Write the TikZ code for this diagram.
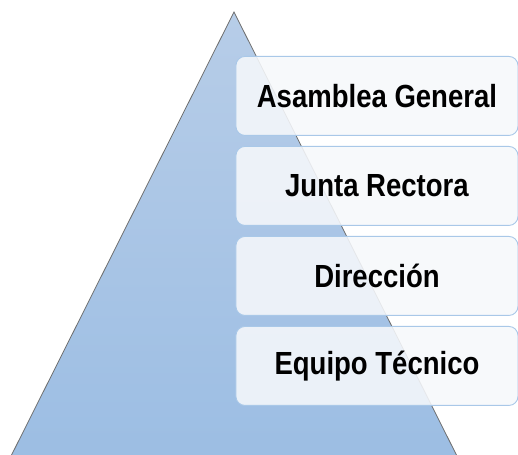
\documentclass[tikz,border=0pt]{standalone}
\usepackage{fontspec}
\newfontfamily\lab[FakeStretch=0.86]{Liberation Sans}
\definecolor{tritop}{HTML}{B7CDE8}
\definecolor{tribot}{HTML}{9BBDE3}
\definecolor{triline}{HTML}{6E6E6E}
\definecolor{boxline}{HTML}{A9C8E8}
\definecolor{boxfill}{HTML}{F6F8FB}
\tikzset{
  level/.style={draw=boxline, line width=0.9pt, fill=boxfill, fill opacity=0.88, text opacity=1,
    rounded corners=9pt, minimum width=282pt, minimum height=79pt, inner sep=0pt,
    font=\lab\bfseries\fontsize{32}{36}\selectfont, anchor=north west},
}
\begin{document}
\begin{tikzpicture}[x=1pt,y=1pt]
\useasboundingbox (0,0) rectangle (518,454);
\clip (0,0) rectangle (518,454);
\shade[top color=tritop, bottom color=tribot, draw=triline, line width=0.8pt]
  (234,442) -- (466,-20) -- (2,-20) -- cycle;
\node[level] (ag) at (235.5,398) {Asamblea General};
\node[level] (jr) at (235.5,308) {Junta Rectora};
\node[level] (di) at (235.5,218) {Dirección};
\node[level] (et) at (235.5,128) {Equipo Técnico};
\end{tikzpicture}
\end{document}
